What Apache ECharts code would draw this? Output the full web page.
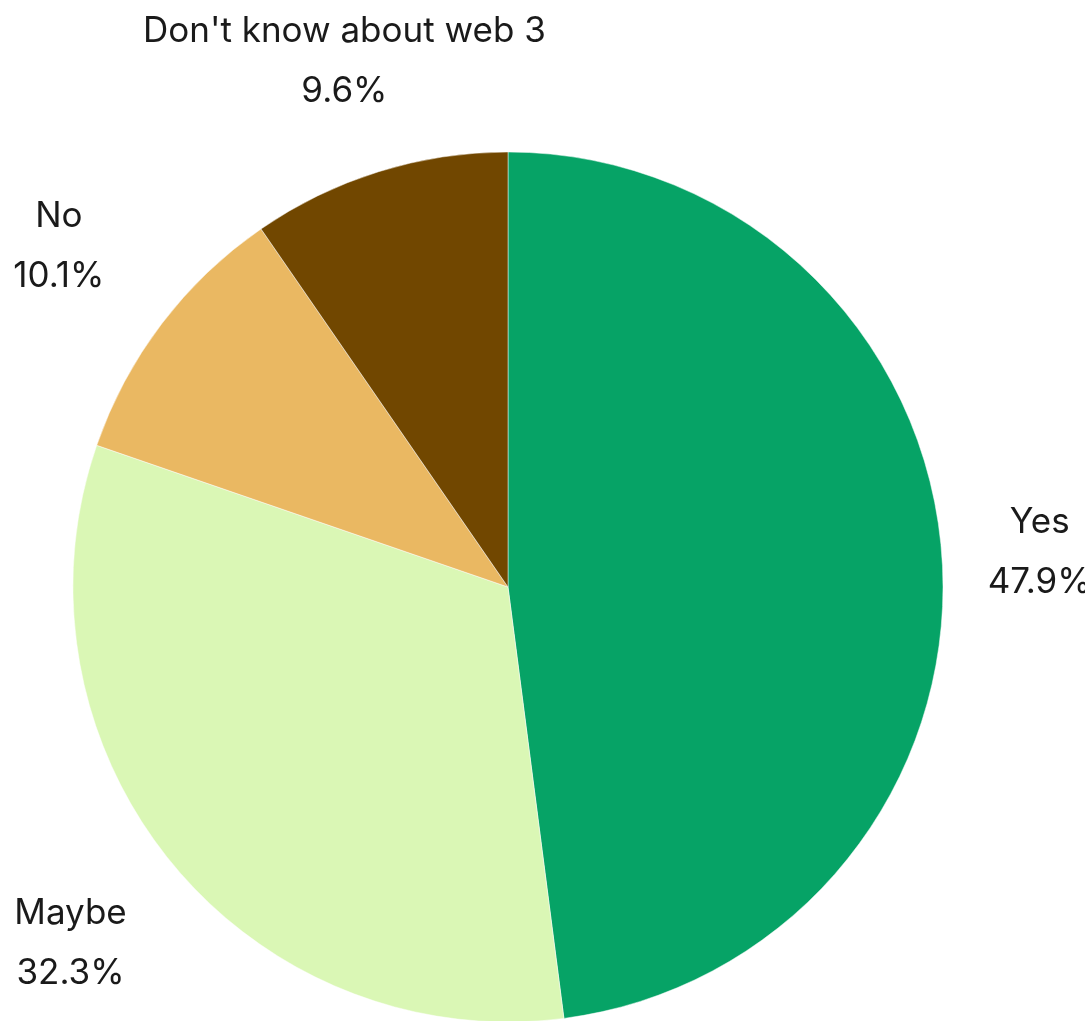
<!DOCTYPE html>
<html>
<head>
<meta charset="utf-8">
<script src="https://cdn.jsdelivr.net/npm/echarts@6/dist/echarts.min.js"></script>
<style>
  html, body { margin: 0; padding: 0; background: #fff; }
  #chart { width: 1085px; height: 1021px; }
</style>
</head>
<body>
<div id="chart"></div>
<script>
const categories = ['Yes', 'Maybe', 'No', "Don't know about web 3"];
const shares = [47.9, 32.3, 10.1, 9.6];
const colors = ['#06A366', '#DAF7B5', '#EAB862', '#714700'];

const cx = 508, cy = 587, R = 435;
const labelGap = 92; // scaled by |cos|+|sin| so labels sit on a diamond-ish contour

const pieData = categories.map((name, i) => ({
  name,
  value: shares[i],
  itemStyle: { color: colors[i] }
}));
// same values, no colour: this ring only carries the labels
const labelData = categories.map((name, i) => ({ name, value: shares[i] }));

const chart = echarts.init(document.getElementById('chart'));
chart.setOption({
  animation: false,
  series: [
    {
      type: 'pie',
      center: [cx, cy],
      radius: R,
      startAngle: 90,
      silent: true,
      itemStyle: { borderColor: 'rgba(255,255,255,0.6)', borderWidth: 0.8 },
      label: { show: false },
      labelLine: { show: false },
      data: pieData
    },
    {
      type: 'pie',
      center: [cx, cy],
      radius: [520, 560],
      startAngle: 90,
      silent: true,
      itemStyle: { color: 'rgba(0,0,0,0)' },
      labelLine: { show: false },
      label: {
        show: true,
        position: 'inside',
        fontFamily: 'Inter',
        fontSize: 35,
        lineHeight: 60,
        color: '#1a1a1a',
        align: 'center',
        formatter: p => p.name + '\n' + p.value.toFixed(1) + '%'
      },
      labelLayout: p => {
        const r = p.labelRect;
        const dx = r.x + r.width / 2 - cx, dy = r.y + r.height / 2 - cy;
        const len = Math.sqrt(dx * dx + dy * dy);
        const ux = dx / len, uy = dy / len;
        const d = R + labelGap * (Math.abs(ux) + Math.abs(uy));
        return { x: cx + ux * d, y: cy + uy * d, align: 'center', verticalAlign: 'middle' };
      },
      data: labelData
    }
  ]
});
</script>
</body>
</html>
